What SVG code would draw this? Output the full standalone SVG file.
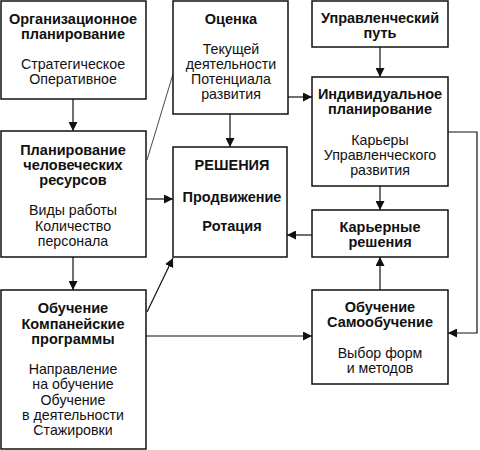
<svg xmlns="http://www.w3.org/2000/svg" width="480" height="450" viewBox="0 0 480 450">
<style>
rect.box{fill:#fff;stroke:#111;stroke-width:1.5}
text{font-family:"Liberation Sans",Arial,sans-serif;font-size:14.2px;fill:#111;text-anchor:middle}
text.b{font-weight:bold;font-size:14.5px}
.c{fill:none;stroke:#111;stroke-width:1.2}
.thin{fill:none;stroke:#333;stroke-width:0.9}
</style>
<defs>
<marker id="a" viewBox="0 0 10 10" refX="10" refY="5" markerWidth="9" markerHeight="9" markerUnits="userSpaceOnUse" orient="auto">
<path d="M0,0 L10,5 L0,10 Z" fill="#111"/>
</marker>
</defs>
<rect width="480" height="450" fill="#fff"/>
<g id="connectors">
<line class="c" x1="73" y1="99" x2="73" y2="131" marker-end="url(#a)"/>
<line class="c" x1="73" y1="257" x2="73" y2="290" marker-end="url(#a)"/>
<line class="c" x1="230" y1="114" x2="230" y2="147" marker-end="url(#a)"/>
<line class="c" x1="146" y1="199" x2="173" y2="199" marker-end="url(#a)"/>
<line class="c" x1="312" y1="235" x2="287" y2="235" marker-end="url(#a)"/>
<line class="c" x1="288" y1="97" x2="312" y2="97" marker-end="url(#a)"/>
<line class="c" x1="380" y1="47" x2="380" y2="77" marker-end="url(#a)"/>
<line class="c" x1="380" y1="186" x2="380" y2="210" marker-end="url(#a)"/>
<line class="c" x1="380" y1="290" x2="380" y2="257" marker-end="url(#a)"/>
<polyline class="c" points="448,132 477,132 477,333 448,333" marker-end="url(#a)"/>
<line class="c" x1="146" y1="336" x2="312" y2="336" marker-end="url(#a)"/>
<line class="c" x1="147" y1="312" x2="173" y2="258" marker-end="url(#a)"/>
<line class="thin" x1="147" y1="160" x2="173" y2="74"/>
</g>
<g id="org">
<rect class="box" x="1" y="1" width="145" height="98"/>
<text class="b" x="73" y="24">Организационное</text>
<text class="b" x="73" y="39">планирование</text>
<text x="73" y="69">Стратегическое</text>
<text x="73" y="84">Оперативное</text>
</g>
<g id="plan">
<rect class="box" x="1" y="131" width="145" height="126"/>
<text class="b" x="73" y="155">Планирование</text>
<text class="b" x="73" y="170">человеческих</text>
<text class="b" x="73" y="185">ресурсов</text>
<text x="73" y="215">Виды работы</text>
<text x="73" y="230.5">Количество</text>
<text x="73" y="246">персонала</text>
</g>
<g id="obuch">
<rect class="box" x="1" y="290" width="145" height="159"/>
<text class="b" x="73" y="313">Обучение</text>
<text class="b" x="73" y="329">Компанейские</text>
<text class="b" x="73" y="344">программы</text>
<text x="73" y="374">Направление</text>
<text x="73" y="389">на обучение</text>
<text x="73" y="405">Обучение</text>
<text x="73" y="420">в деятельности</text>
<text x="73" y="435">Стажировки</text>
</g>
<g id="ocenka">
<rect class="box" x="173" y="1" width="115" height="113"/>
<text class="b" x="231" y="24">Оценка</text>
<text x="231" y="54">Текущей</text>
<text x="231" y="69">деятельности</text>
<text x="231" y="84">Потенциала</text>
<text x="231" y="99">развития</text>
</g>
<g id="resheniya">
<rect class="box" x="173" y="147" width="114" height="110"/>
<text class="b" x="232" y="170">РЕШЕНИЯ</text>
<text class="b" x="232" y="202">Продвижение</text>
<text class="b" x="232" y="231">Ротация</text>
</g>
<g id="uprput">
<rect class="box" x="312" y="1" width="136" height="46"/>
<text class="b" x="380" y="23">Управленческий</text>
<text class="b" x="380" y="38">путь</text>
</g>
<g id="indiv">
<rect class="box" x="312" y="77" width="136" height="109"/>
<text class="b" x="380" y="99">Индивидуальное</text>
<text class="b" x="380" y="114">планирование</text>
<text x="380" y="145">Карьеры</text>
<text x="380" y="160">Управленческого</text>
<text x="380" y="175">развития</text>
</g>
<g id="karier">
<rect class="box" x="312" y="210" width="136" height="47"/>
<text class="b" x="380" y="232">Карьерные</text>
<text class="b" x="380" y="247">решения</text>
</g>
<g id="samo">
<rect class="box" x="312" y="290" width="136" height="94"/>
<text class="b" x="380" y="312">Обучение</text>
<text class="b" x="380" y="327">Самообучение</text>
<text x="380" y="358">Выбор форм</text>
<text x="380" y="373">и методов</text>
</g>
</svg>
